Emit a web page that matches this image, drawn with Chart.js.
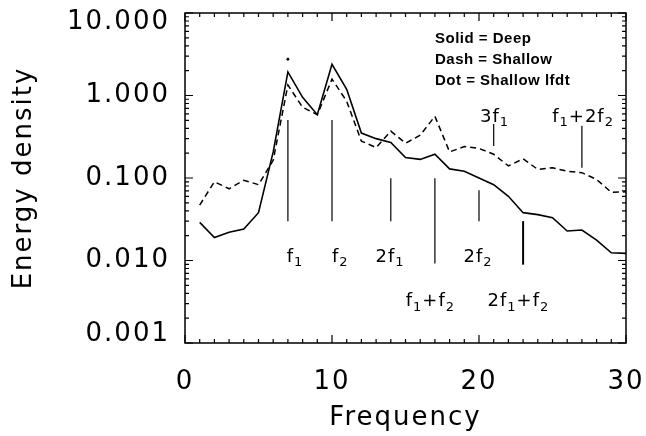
<!DOCTYPE html>
<html>
<head>
<meta charset="utf-8">
<script src="https://cdn.jsdelivr.net/npm/chart.js@4.4.0/dist/chart.umd.min.js"></script>
<style>
  html, body { margin: 0; padding: 0; background: #fff; }
</style>
</head>
<body>
<canvas id="grafico" width="646" height="436"></canvas>
<script>
// datos
const freq = [1, 2, 3, 4, 5, 6, 7, 8, 9, 10, 11, 12, 13, 14, 15, 16, 17, 18, 19, 20, 21, 22, 23, 24, 25, 26, 27, 28, 29, 30];
const deep = [0.029, 0.019, 0.022, 0.024, 0.038, 0.207, 1.93, 0.95, 0.585, 2.39, 1.19, 0.35, 0.30, 0.27, 0.177, 0.168, 0.194, 0.129, 0.121, 0.100, 0.083, 0.060, 0.038, 0.036, 0.033, 0.0228, 0.0234, 0.0177, 0.0124, 0.0122];
const shallow = [0.047, 0.090, 0.074, 0.094, 0.083, 0.164, 1.34, 0.72, 0.585, 1.58, 0.85, 0.28, 0.234, 0.37, 0.264, 0.33, 0.56, 0.207, 0.24, 0.228, 0.194, 0.14, 0.171, 0.127, 0.133, 0.121, 0.116, 0.096, 0.067, 0.068];
const lfdtFreq = [7];
const lfdt = [2.75];

const xTicks = [0, 10, 20, 30];
const yTicks = [0.001, 0.01, 0.1, 1, 10];

// armonicos: linea vertical y etiqueta
const harmNames = ["f_1", "f_2", "2f_1", "f_1+f_2", "2f_2", "2f_1+f_2", "3f_1", "f_1+2f_2"];
const harmFreq = [7, 10, 14, 17, 20, 23, 21, 27];
const harmTop = [0.505, 0.505, 0.099, 0.099, 0.071, 0.030, 0.45, 0.43];
const harmBottom = [0.030, 0.030, 0.030, 0.0092, 0.030, 0.0089, 0.245, 0.133];
const labelFreq = [7.48, 10.56, 13.95, 16.69, 19.93, 22.68, 21.06, 27.08];
const labelLevel = [0.0097, 0.0097, 0.0097, 0.0028, 0.0097, 0.0028, 0.48, 0.48];

const legendLines = ["Solid = Deep", "Dash = Shallow", "Dot = Shallow lfdt"];

const toPoints = (xs, ys) => xs.map((x, i) => ({ x: x, y: ys[i] }));

const datasets = [
  {
    label: "Deep",
    data: toPoints(freq, deep),
    borderColor: "#000",
    borderWidth: 1.6,
    pointRadius: 0,
  },
  {
    label: "Shallow",
    data: toPoints(freq, shallow),
    borderColor: "#000",
    borderWidth: 1.5,
    borderDash: [6, 4],
    pointRadius: 0,
  },
  {
    label: "Shallow lfdt",
    data: toPoints(lfdtFreq, lfdt),
    showLine: false,
    pointRadius: 1.4,
    pointBorderWidth: 0,
    pointBackgroundColor: "#000",
  },
];

harmFreq.forEach((f, i) => {
  datasets.push({
    label: harmNames[i],
    data: [{ x: f, y: harmBottom[i] }, { x: f, y: harmTop[i] }],
    borderColor: "#000",
    borderWidth: i == 5 ? 2 : 1.2,
    pointRadius: 0,
  });
});

const fuente = "'DejaVu Sans'";

// marco, marcas interiores, etiquetas y leyenda
const extras = {
  id: "extras",
  beforeDraw(chart) {
    chart.ctx.letterSpacing = "2px";
  },
  afterDraw(chart) {
    const ctx = chart.ctx;
    const { left, right, top, bottom } = chart.chartArea;
    const sx = chart.scales.x;
    const sy = chart.scales.y;
    ctx.save();
    ctx.strokeStyle = "#000";
    ctx.lineWidth = 1.5;
    ctx.strokeRect(left, top, right - left, bottom - top);

    ctx.lineWidth = 1.2;
    ctx.beginPath();
    for (let v = 0; v <= 30; v++) {
      const px = sx.getPixelForValue(v);
      const len = v % 10 == 0 ? 8 : 4;
      ctx.moveTo(px, bottom);
      ctx.lineTo(px, bottom - len);
      ctx.moveTo(px, top);
      ctx.lineTo(px, top + len);
    }
    yTicks.forEach((d, j) => {
      const py = sy.getPixelForValue(d);
      ctx.moveTo(left, py);
      ctx.lineTo(left + 8, py);
      ctx.moveTo(right, py);
      ctx.lineTo(right - 8, py);
      if (j == yTicks.length - 1) return;
      for (let k = 2; k <= 9; k++) {
        const pm = sy.getPixelForValue(d * k);
        ctx.moveTo(left, pm);
        ctx.lineTo(left + 4, pm);
        ctx.moveTo(right, pm);
        ctx.lineTo(right - 4, pm);
      }
    });
    ctx.stroke();

    // etiquetas de armonicos con subindices
    ctx.fillStyle = "#000";
    ctx.textBaseline = "alphabetic";
    ctx.textAlign = "left";
    ctx.letterSpacing = "1px";
    const fMain = "18px " + fuente;
    const fSub = "13px " + fuente;
    harmNames.forEach((name, i) => {
      const partes = [];
      for (let c = 0; c < name.length; c++) {
        if (name[c] == "_") {
          partes.push({ t: name[c + 1], sub: true });
          c++;
        } else {
          partes.push({ t: name[c], sub: false });
        }
      }
      let ancho = 0;
      partes.forEach((p) => {
        ctx.font = p.sub ? fSub : fMain;
        p.w = ctx.measureText(p.t).width;
        ancho += p.w;
      });
      let x = sx.getPixelForValue(labelFreq[i]) - ancho / 2;
      const y = sy.getPixelForValue(labelLevel[i]);
      partes.forEach((p) => {
        ctx.font = p.sub ? fSub : fMain;
        ctx.fillText(p.t, x, p.sub ? y + 4.5 : y);
        x += p.w;
      });
    });

    // leyenda de texto
    ctx.letterSpacing = "0.5px";
    ctx.font = "bold 15px 'Liberation Sans'";
    legendLines.forEach((t, i) => {
      ctx.fillText(t, 435, 43 + i * 21);
    });
    ctx.restore();
  },
};

new Chart(document.getElementById("grafico"), {
  type: "line",
  data: { datasets: datasets },
  plugins: [extras],
  options: {
    responsive: false,
    animation: false,
    layout: { padding: { top: 13, right: 20, left: 0, bottom: 0 } },
    plugins: {
      legend: { display: false },
      tooltip: { enabled: false },
    },
    scales: {
      x: {
        type: "linear",
        min: 0,
        max: 30,
        afterBuildTicks: (s) => {
          s.ticks = xTicks.map((v) => ({ value: v }));
        },
        afterFit: (s) => {
          s.height = 93;
          s.paddingLeft = 0;
          s.paddingRight = 0;
        },
        grid: { display: false, drawTicks: false },
        border: { display: false },
        ticks: {
          color: "#000",
          font: { family: fuente, size: 26 },
          padding: 24,
          maxRotation: 0,
          autoSkip: false,
        },
        title: {
          display: true,
          text: "Frequency",
          color: "#000",
          font: { family: fuente, size: 26 },
          padding: { top: 0, bottom: 2 },
        },
      },
      y: {
        type: "logarithmic",
        min: 0.001,
        max: 10,
        afterBuildTicks: (s) => {
          s.ticks = yTicks.map((v) => ({ value: v }));
        },
        afterFit: (s) => {
          s.width = 185;
          s.paddingTop = 0;
          s.paddingBottom = 0;
        },
        grid: { display: false, drawTicks: false },
        border: { display: false },
        ticks: {
          color: "#000",
          font: { family: fuente, size: 26, lineHeight: 0.7 },
          padding: 15,
          autoSkip: false,
          callback: (v, i, arr) => {
            const txt = Number(v).toFixed(3);
            if (i == arr.length - 1) return ["", txt];
            if (i == 0) return [txt, ""];
            return txt;
          },
        },
        title: {
          display: true,
          text: "Energy density",
          color: "#000",
          font: { family: fuente, size: 26 },
          padding: { top: 9, bottom: 0 },
        },
      },
    },
  },
});
</script>
</body>
</html>
